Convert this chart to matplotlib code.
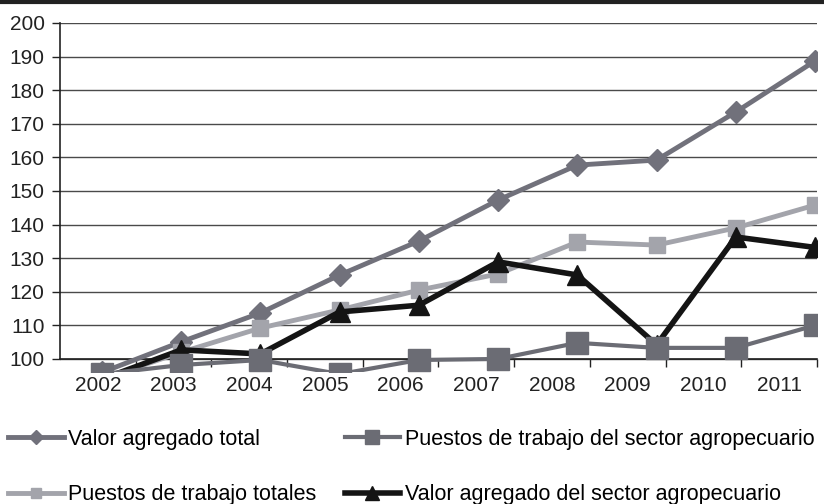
import matplotlib
matplotlib.use("Agg")
import matplotlib.pyplot as plt
from matplotlib.lines import Line2D
import numpy as np

plt.rcParams["font.family"] = ["Liberation Sans", "DejaVu Sans"]

# --- data (index values) ---
years = ["2002", "2003", "2004", "2005", "2006", "2007", "2008", "2009", "2010", "2011"]
valor_total = [96, 105.1, 113.7, 125, 135.1, 147.3, 157.7, 159.2, 173.5, 188.7]
puestos_totales = [94, 102, 109.2, 114.6, 120.5, 125.3, 134.8, 133.9, 139, 145.8]
puestos_agro = [95.5, 98.2, 99.7, 95.5, 99.7, 100, 104.8, 103.3, 103.3, 110]
valor_agro = [94, 102.7, 101.5, 114, 116, 128.9, 125, 104.2, 136.3, 133.2]

labels = [
    "Valor agregado total",
    "Puestos de trabajo totales",
    "Puestos de trabajo del sector agropecuario",
    "Valor agregado del sector agropecuario",
]

fig = plt.figure(figsize=(8.24, 5.04), dpi=100)
ax = fig.add_axes([0.0728, 0.2611, 0.9187, 0.6933])

x = np.arange(len(years))

l1, = ax.plot(x, valor_total, color="#71717b", lw=3.5, marker="D", ms=11,
              mec="#71717b", zorder=3)
l2, = ax.plot(x, puestos_totales, color="#a3a4ab", lw=3.5, marker="s", ms=12,
              mec="#a3a4ab", zorder=3)
l4, = ax.plot(x, valor_agro, color="#141414", lw=4, marker="^", ms=15,
              mec="#141414", zorder=4)
l3, = ax.plot(x, puestos_agro, color="#6b6c74", lw=3, marker="s", ms=16,
              mec="#6b6c74", zorder=5)

# x layout: categories as equal bins over the axis, data slightly stretched
xlim = (-0.53, 9.025)
ax.set_xlim(*xlim)
edges = np.linspace(xlim[0], xlim[1], len(years) + 1)
centers = (edges[:-1] + edges[1:]) / 2
ax.set_xticks(edges[1:])
ax.set_xticklabels([])
ax.set_xticks(centers, minor=True)
ax.set_xticklabels(years, minor=True)
ax.tick_params(axis="x", which="major", direction="out", length=6, width=1, color="#222")
ax.tick_params(axis="x", which="minor", length=0, pad=12, labelsize=15, labelcolor="#222")

ax.set_ylim(96, 200)
ax.set_yticks(np.arange(100, 201, 10))
ax.tick_params(axis="y", direction="out", length=6, width=1, pad=5,
               labelsize=15, labelcolor="#222", color="#222")
ax.yaxis.grid(True, color="#4a4a4a", lw=1)
ax.set_axisbelow(True)

for s in ["top", "right"]:
    ax.spines[s].set_visible(False)
ax.spines["bottom"].set_position(("data", 100))
ax.spines["left"].set_bounds(100, 200)
for s in ["bottom", "left"]:
    ax.spines[s].set_color("#222")
    ax.spines[s].set_linewidth(1.2)

fig.legend([l1, l2, l3, l4], labels, ncol=2, loc="upper left",
           bbox_to_anchor=(0.0097, 0.149), frameon=False, fontsize=15.5,
           handlelength=2.6, handletextpad=0.2, columnspacing=1.3,
           labelspacing=1.6, borderpad=0, borderaxespad=0, markerscale=0.65)

# thick rule at the top of the figure
fig.add_artist(Line2D([0, 1], [0.996, 0.996], transform=fig.transFigure,
                      color="#222", lw=3))

fig.savefig("out.png", dpi=100)
